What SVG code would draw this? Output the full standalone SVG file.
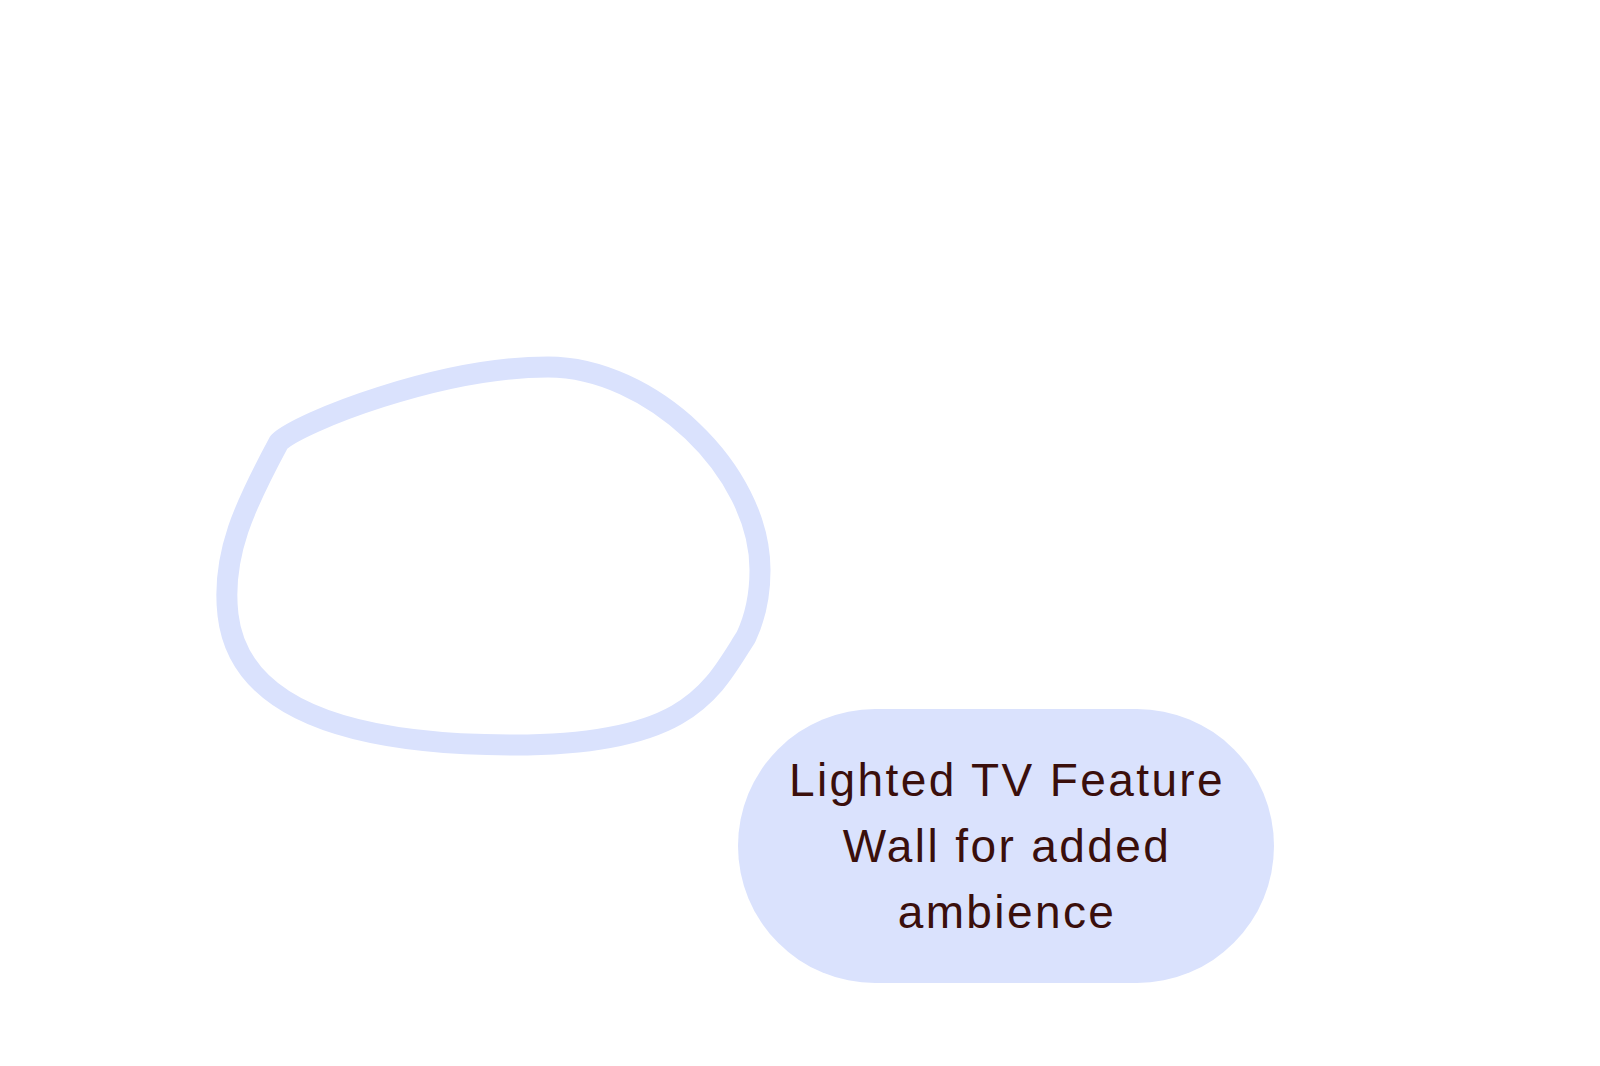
<svg xmlns="http://www.w3.org/2000/svg" width="1600" height="1066" viewBox="0 0 1600 1066">
<style>
.outline{fill:none;stroke:#dae2fd;stroke-width:21;stroke-linejoin:round}
.pill{fill:#dae2fd}
.lbl{font-family:"Liberation Sans",Arial,sans-serif;font-size:46px;fill:#3a0f0c;text-anchor:middle;letter-spacing:2.4px}
</style>
<rect width="1600" height="1066" fill="#ffffff"/>
<g id="blob">
<path class="outline" d="M279,442 C300,422 440,367 548,367 C650,367 760,470 760,570 C760,595 755,618 746,637 C712,690 690,745 514,745 C330,745 238,700 228,615 C221,555 245,505 279,442 Z"/>
</g>
<g id="connectors"></g>
<g id="node-lighted-tv">
<rect class="pill" x="738" y="709" width="536" height="274" rx="137" ry="137"/>
<text class="lbl" x="1007" y="796">Lighted TV Feature</text>
<text class="lbl" x="1007" y="862">Wall for added</text>
<text class="lbl" x="1007" y="928">ambience</text>
</g>
</svg>
